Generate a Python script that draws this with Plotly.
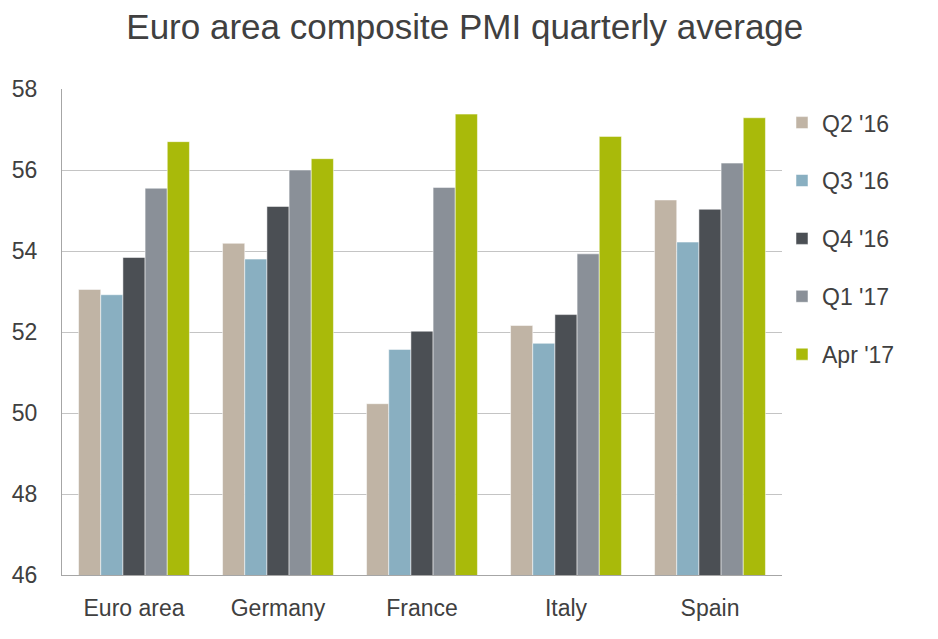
import plotly.graph_objects as go

countries = ["Euro area", "Germany", "France", "Italy", "Spain"]
periods = ["Q2 '16", "Q3 '16", "Q4 '16", "Q1 '17", "Apr '17"]

q2_16 = [53.05, 54.19, 50.23, 52.16, 55.26]
q3_16 = [52.92, 53.80, 51.57, 51.72, 54.22]
q4_16 = [53.84, 55.10, 52.02, 52.43, 55.03]
q1_17 = [55.55, 56.00, 55.57, 53.93, 56.17]
apr_17 = [56.70, 56.28, 57.38, 56.83, 57.29]

series = [q2_16, q3_16, q4_16, q1_17, apr_17]
colors = ["#C0B4A5", "#89AFC1", "#4B4F54", "#8A9098", "#A9BA0A"]

fig = go.Figure()
for name, vals, col in zip(periods, series, colors):
    fig.add_bar(x=countries, y=vals, name=name, legendgroup=name,
                marker_color=col,
                marker_line_color="rgba(255,255,255,0.5)", marker_line_width=1)

fig.update_layout(
    width=938, height=639,
    barmode="group", bargap=0.23, bargroupgap=0,
    plot_bgcolor="white", paper_bgcolor="white",
    font=dict(family="Liberation Sans, Arial, sans-serif", size=23, color="#404040"),
    title=dict(text="Euro area composite PMI quarterly average",
               font=dict(size=35, color="#404040"),
               x=0.487, xanchor="center", y=0.971, yanchor="middle"),
    margin=dict(l=54, r=164, t=81, b=72),
    legend=dict(x=1.0, y=0.975, yanchor="top", xanchor="left",
                font=dict(size=23), itemwidth=30, tracegroupgap=25,
                traceorder="grouped"),
    showlegend=True,
)
fig.update_yaxes(range=[46, 58], dtick=2, showgrid=True, gridcolor="#C4C4C4",
                 gridwidth=1, showline=True, linecolor="#A6A6A6", linewidth=1,
                 ticks="", ticklabelstandoff=19, zeroline=False,
                 tickfont=dict(size=23), automargin=False)
fig.update_xaxes(showline=True, linecolor="#A6A6A6", linewidth=1, ticks="",
                 ticklabelstandoff=12, automargin=False)

fig.write_html("out.html")
